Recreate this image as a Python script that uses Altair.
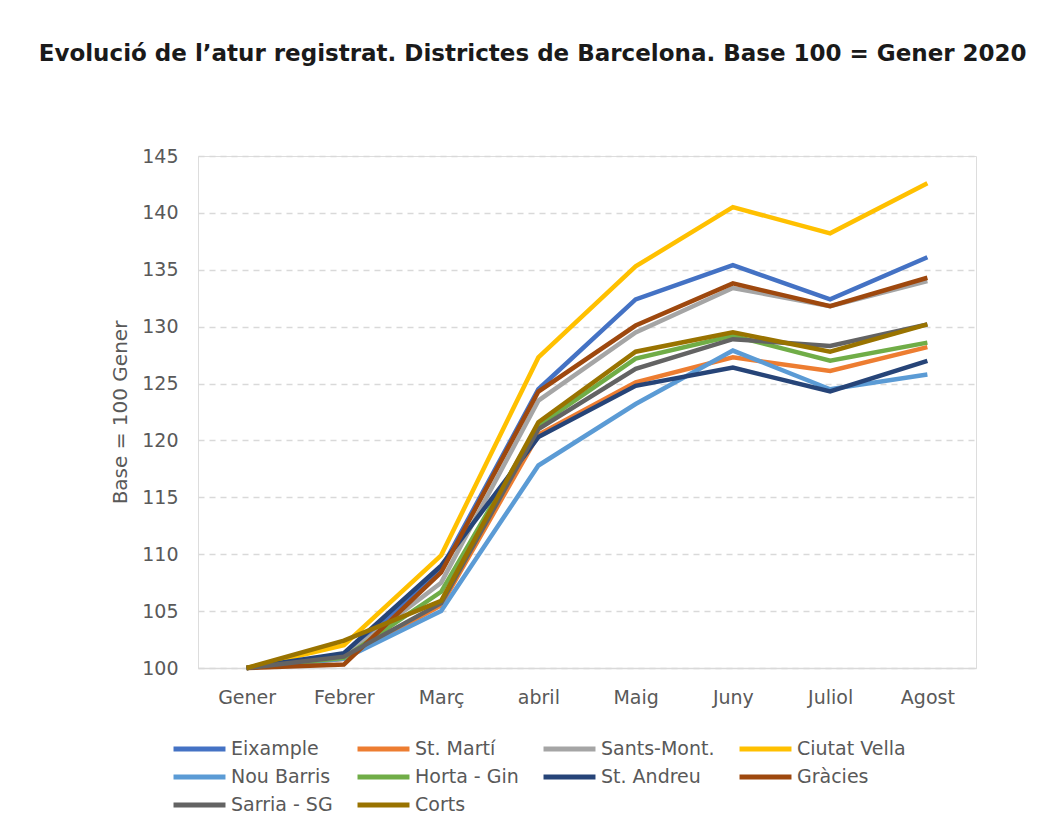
import altair as alt
import pandas as pd

months = ["Gener", "Febrer", "Març", "abril", "Maig", "Juny", "Juliol", "Agost"]

districts = ["Eixample", "St. Martí", "Sants-Mont.", "Ciutat Vella", "Nou Barris",
             "Horta - Gin", "St. Andreu", "Gràcies", "Sarria - SG", "Corts"]
colors = ["#4472C4", "#ED7D31", "#A5A5A5", "#FFC000", "#5B9BD5",
          "#70AD47", "#264478", "#9E480E", "#636363", "#997300"]

eixample = [100, 101.0, 108.7, 124.5, 132.4, 135.4, 132.4, 136.1]
st_marti = [100, 100.8, 105.5, 120.5, 125.1, 127.3, 126.1, 128.2]
sants = [100, 101.0, 107.5, 123.5, 129.5, 133.4, 131.8, 134.0]
ciutat_vella = [100, 102.0, 109.9, 127.3, 135.3, 140.5, 138.2, 142.6]
nou_barris = [100, 100.8, 105.0, 117.8, 123.2, 127.9, 124.5, 125.8]
horta = [100, 100.9, 106.7, 121.3, 127.2, 129.2, 127.0, 128.6]
st_andreu = [100, 101.3, 109.0, 120.3, 124.8, 126.4, 124.3, 127.0]
gracies = [100, 100.3, 108.4, 124.3, 130.1, 133.8, 131.8, 134.3]
sarria = [100, 101.0, 105.7, 121.0, 126.3, 128.9, 128.3, 130.2]
corts = [100, 102.4, 105.9, 121.6, 127.8, 129.5, 127.8, 130.2]

series = [eixample, st_marti, sants, ciutat_vella, nou_barris,
          horta, st_andreu, gracies, sarria, corts]

rows = []
for i, (name, vals) in enumerate(zip(districts, series)):
    for m, v in zip(months, vals):
        rows.append({"district": name, "month": m, "value": v, "order": i})
df = pd.DataFrame(rows)

FONT = "DejaVu Sans"
GREY = "#595959"

chart = alt.Chart(df).mark_line(strokeWidth=4.5, strokeJoin="miter").encode(
    x=alt.X("month:N", sort=months, title=None,
            scale=alt.Scale(type="point", padding=0.5),
            axis=alt.Axis(labelAngle=0, ticks=False, grid=False, domain=True,
                          domainColor="#d9d9d9", domainWidth=1.5,
                          labelFontSize=19, labelColor=GREY, labelPadding=20,
                          labelFont=FONT)),
    y=alt.Y("value:Q", title="Base = 100 Gener",
            scale=alt.Scale(domain=[100, 145], nice=False, zero=False),
            axis=alt.Axis(values=[100, 105, 110, 115, 120, 125, 130, 135, 140, 145],
                          domain=False, ticks=False, grid=True,
                          gridDash=[6, 5], gridColor="#d9d9d9", gridWidth=1.5,
                          labelFontSize=19, labelColor=GREY, labelPadding=20,
                          labelFont=FONT, titleFont=FONT, titleFontSize=20,
                          titleColor=GREY, titleFontWeight="normal", titlePadding=11)),
    color=alt.Color("district:N", sort=districts,
                    scale=alt.Scale(domain=districts, range=colors),
                    legend=alt.Legend(title=None, orient="none", legendX=-27, legendY=581,
                                      columns=4, direction="horizontal",
                                      symbolType="stroke", symbolSize=2700,
                                      symbolStrokeWidth=5, labelFontSize=19,
                                      labelColor=GREY, labelFont=FONT, clipHeight=24,
                                      columnPadding=22, rowPadding=4, labelOffset=3)),
    order=alt.Order("order:Q"),
    detail="district:N",
).properties(
    width=778,
    height=512,
    title=alt.TitleParams(
        "Evolució de l’atur registrat. Districtes de Barcelona. Base 100 = Gener 2020",
        font=FONT, fontSize=23, fontWeight="bold", color="#1a1a1a",
        anchor="start", dx=-72, offset=81),
    padding={"left": 30, "top": 35, "right": 5, "bottom": 5},
).configure_view(stroke=None).configure(background="#ffffff")

chart.save("out.html", embed_options={"renderer": "svg", "actions": False})
